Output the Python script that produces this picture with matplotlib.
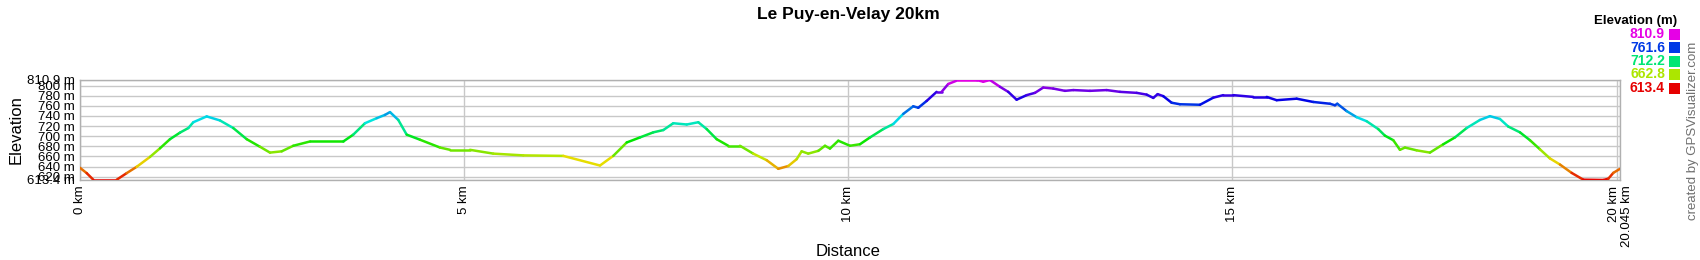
import matplotlib
matplotlib.use("Agg")
import matplotlib.pyplot as plt
import matplotlib.transforms as mtransforms
import numpy as np
from matplotlib.collections import LineCollection
from matplotlib.colors import hsv_to_rgb

plt.rcParams['font.family'] = ['Liberation Sans', 'DejaVu Sans']

title = "Le Puy-en-Velay 20km"

distance_km = [0.0, 0.087, 0.173, 0.478, 0.608, 0.738, 0.911, 1.041, 1.171, 1.302,
               1.410, 1.475, 1.649, 1.822, 1.995, 2.170, 2.343, 2.473, 2.625, 2.776,
               2.994, 3.427, 3.557, 3.709, 3.862, 3.970, 4.035, 4.143, 4.252, 4.425,
               4.686, 4.816, 5.076, 5.379, 5.770, 6.291, 6.768, 6.941, 7.116, 7.289,
               7.462, 7.592, 7.722, 7.897, 8.048, 8.157, 8.287, 8.438, 8.590, 8.763,
               8.938, 9.089, 9.219, 9.328, 9.393, 9.479, 9.610, 9.697, 9.762, 9.870,
               10.022, 10.152, 10.283, 10.456, 10.586, 10.716, 10.846, 10.911, 11.020, 11.150,
               11.215, 11.301, 11.432, 11.671, 11.757, 11.844, 11.974, 12.082, 12.191, 12.322,
               12.430, 12.538, 12.668, 12.820, 12.929, 13.146, 13.363, 13.536, 13.754, 13.884,
               13.970, 14.027, 14.100, 14.209, 14.317, 14.578, 14.751, 14.881, 15.011, 15.271,
               15.446, 15.576, 15.836, 16.053, 16.270, 16.335, 16.365, 16.487, 16.617, 16.747,
               16.898, 16.985, 17.094, 17.181, 17.246, 17.398, 17.571, 17.745, 17.897, 18.049,
               18.222, 18.352, 18.482, 18.590, 18.743, 18.873, 19.003, 19.133, 19.263, 19.415,
               19.568, 19.828, 19.893, 19.958, 20.045]

elevation_m = [637.5, 627, 614, 614, 627, 639.5, 659, 676, 694, 707,
               716, 727.5, 739, 731, 716, 694, 679, 667.5, 670, 681,
               689.5, 689.5, 703, 725.5, 735.5, 742, 747.5, 732, 703, 693,
               677.5, 673, 673, 665.5, 662, 661, 642, 661, 687.5, 697.5,
               707.5, 712, 725.5, 723, 727.5, 714, 694, 681, 681, 665.5,
               652.5, 635.5, 641, 654.5, 670, 665.5, 671, 681, 675.5, 691,
               681, 684, 697.5, 714, 724, 744, 759, 756, 769.5, 787.5,
               787.5, 803, 810.9, 810.9, 807.5, 810.9, 797.5, 787.5, 772, 781,
               785.5, 796, 794, 789.5, 791, 789.5, 791, 787.5, 785.5, 782,
               775.5, 783, 779, 766, 763, 762, 776, 781, 781, 777.5,
               777.5, 771, 774, 767.5, 764, 761, 764, 749.5, 737.5, 729.5,
               714, 701, 692, 673, 677.5, 672, 667.5, 684, 697.5, 716,
               732, 739.5, 734, 719, 707.5, 692, 674, 656, 644, 627.5,
               614, 613.4, 616, 627.5, 635.5]

y_min, y_max = 613.4, 810.9
x_max = 20.045
y_ticks = [613.4, 620, 640, 660, 680, 700, 720, 740, 760, 780, 800, 810.9]
x_ticks = [0, 5, 10, 15, 20, 20.045]
x_tick_labels = ["0 km", "5 km", "10 km", "15 km", "20 km", "20.045 km"]
legend_values = [810.9, 761.6, 712.2, 662.8, 613.4]


def elev_color(e):
    t = (e - y_min) / (y_max - y_min)
    t = min(max(t, 0.0), 1.0)
    return hsv_to_rgb([t * 300.0 / 360.0, 1.0, 0.9])


W, H = 1700, 260
fig = plt.figure(figsize=(W / 100, H / 100), dpi=100)
ax = fig.add_axes([80 / W, 1 - 180 / H, 1540 / W, 100 / H])

x = np.array(distance_km)
y = np.array(elevation_m)
pts = np.column_stack([x, y]).reshape(-1, 1, 2)
segs = np.concatenate([pts[:-1], pts[1:]], axis=1)
cols = [elev_color((a + b) / 2) for a, b in zip(y[:-1], y[1:])]
lc = LineCollection(segs, colors=cols, linewidths=1.8, capstyle='round', joinstyle='round', zorder=3)
ax.add_collection(lc)

ax.set_xlim(0, x_max)
ax.set_ylim(y_min, y_max)
ax.set_yticks(y_ticks)
ax.set_yticklabels([f"{v:g} m" for v in y_ticks], fontsize=9.5)
ax.set_xticks(x_ticks)
ax.set_xticklabels(x_tick_labels, rotation=90, fontsize=9.5, va='top', ha='center')
ax.tick_params(length=0, pad=4)
ax.grid(True, color='#c8c8c8', linewidth=1, zorder=0)
for s in ax.spines.values():
    s.set_color('#b0b0b0')
    s.set_linewidth(1)

# separate the two crowded end labels like the reference
xl = ax.get_xticklabels()
xl[-2].set_transform(xl[-2].get_transform() + mtransforms.ScaledTranslation(-3 / 100, 0, fig.dpi_scale_trans))
xl[-1].set_transform(xl[-1].get_transform() + mtransforms.ScaledTranslation(7 / 100, 0, fig.dpi_scale_trans))

fig.text(16 / W, 1 - 130 / H, "Elevation", rotation=90, fontsize=12, ha='center', va='center')
fig.text(848 / W, 1 - 251 / H, "Distance", fontsize=12, ha='center', va='center')
fig.text(848 / W, 1 - 14 / H, title, fontsize=12.5, fontweight='bold', ha='center', va='center')

# legend
fig.text(1677 / W, 1 - 21 / H, "Elevation (m)", fontsize=9.5, fontweight='bold', ha='right', va='center')
for i, v in enumerate(legend_values):
    yc = 34 + i * 13.5
    c = elev_color(v)
    fig.text(1665 / W, 1 - yc / H, f"{v:.1f}", fontsize=10, fontweight='bold', color=c, ha='right', va='center')
    fig.patches.append(plt.Rectangle((1669 / W, 1 - (yc + 5.5) / H), 11 / W, 11 / H,
                                     transform=fig.transFigure, facecolor=c, edgecolor='none'))

fig.text(1693 / W, 1 - 131 / H, "created by GPSVisualizer.com", rotation=90, fontsize=9.5,
         color='#707070', ha='center', va='center')

fig.savefig("out.png", dpi=100)
